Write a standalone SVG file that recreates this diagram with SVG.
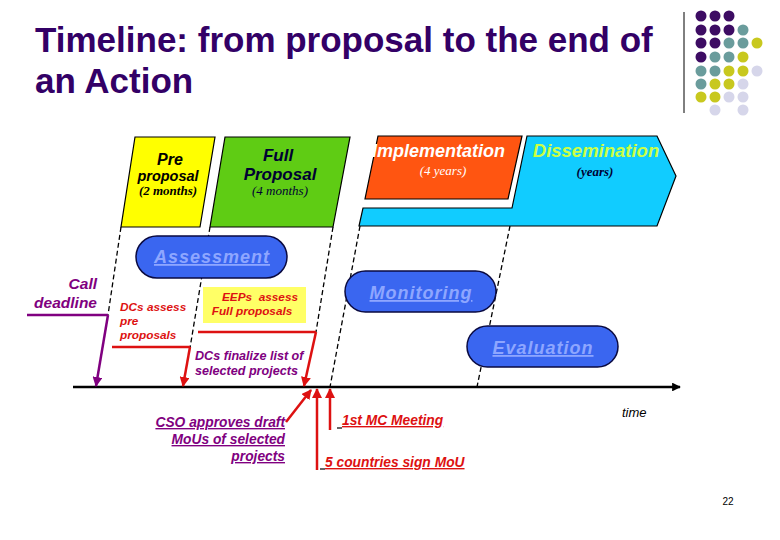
<svg xmlns="http://www.w3.org/2000/svg" width="780" height="540" viewBox="0 0 780 540">
<defs>
<style>
.t{font-family:"Liberation Sans",Arial,sans-serif;font-weight:bold;font-style:italic}
.s{font-family:"Liberation Serif","Times New Roman",serif;font-style:italic}
.sh{stroke:#000;stroke-width:1.2}
.pill{fill:#3a66f0;stroke:#0a0a40;stroke-width:1.5}
.pt{fill:#8ea6ff;font-size:18px;letter-spacing:1px;text-decoration:underline;text-anchor:middle}
.dash{stroke:#000;stroke-width:1.3;stroke-dasharray:5,3;fill:none}
.red{stroke:#dd1111;stroke-width:2.5;fill:none}
.pur{stroke:#800080;stroke-width:2.5;fill:none}
.rt{fill:#dd1111}
.pu{fill:#800080}
.u{text-decoration:underline}
</style>
<marker id="ar" viewBox="0 0 10 10" refX="9" refY="5" markerWidth="4" markerHeight="4" orient="auto"><path d="M0,0 L10,5 L0,10 Z" fill="#dd1111"/></marker>
<marker id="ap" viewBox="0 0 10 10" refX="9" refY="5" markerWidth="4" markerHeight="4" orient="auto"><path d="M0,0 L10,5 L0,10 Z" fill="#800080"/></marker>
<marker id="ak" viewBox="0 0 10 10" refX="9" refY="5" markerWidth="3.5" markerHeight="3.5" orient="auto"><path d="M0,0 L10,5 L0,10 Z" fill="#000"/></marker>
</defs>
<rect width="780" height="540" fill="#fff"/>

<g id="title">
<text x="35" y="52" font-family="Liberation Sans,Arial,sans-serif" font-weight="bold" font-size="35" fill="#330066">Timeline: from proposal to the end of</text>
<text x="35" y="93" font-family="Liberation Sans,Arial,sans-serif" font-weight="bold" font-size="35" fill="#330066">an Action</text>
</g>

<g id="logo">
<line x1="684" y1="12" x2="684" y2="113" stroke="#000" stroke-width="1"/>
<g fill="#3d0c63">
<circle cx="701" cy="16" r="5.5"/><circle cx="715" cy="16" r="5.5"/><circle cx="729" cy="16" r="5.5"/>
<circle cx="701" cy="30" r="5.5"/><circle cx="715" cy="30" r="5.5"/><circle cx="729" cy="30" r="5.5"/>
<circle cx="701" cy="43" r="5.5"/><circle cx="715" cy="43" r="5.5"/>
<circle cx="701" cy="57" r="5.5"/>
</g>
<g fill="#6a9c9c">
<circle cx="743" cy="30" r="5.5"/>
<circle cx="729" cy="43" r="5.5"/><circle cx="743" cy="43" r="5.5"/>
<circle cx="715" cy="57" r="5.5"/><circle cx="729" cy="57" r="5.5"/>
<circle cx="701" cy="71" r="5.5"/><circle cx="715" cy="71" r="5.5"/>
<circle cx="701" cy="84" r="5.5"/>
</g>
<g fill="#c8c81e">
<circle cx="757" cy="43" r="5.5"/>
<circle cx="743" cy="57" r="5.5"/>
<circle cx="729" cy="71" r="5.5"/><circle cx="743" cy="71" r="5.5"/>
<circle cx="715" cy="84" r="5.5"/><circle cx="729" cy="84" r="5.5"/>
<circle cx="701" cy="97" r="5.5"/><circle cx="715" cy="97" r="5.5"/>
</g>
<g fill="#d6d6ea">
<circle cx="757" cy="71" r="5.5"/>
<circle cx="743" cy="84" r="5.5"/>
<circle cx="729" cy="97" r="5.5"/><circle cx="743" cy="97" r="5.5"/>
<circle cx="715" cy="110" r="5.5"/><circle cx="743" cy="110" r="5.5"/>
</g>
</g>

<g id="connectors">
<line class="dash" x1="121" y1="227" x2="108" y2="315"/>
<line class="dash" x1="210" y1="227" x2="190" y2="348"/>
<line class="dash" x1="333" y1="227" x2="316" y2="332"/>
<line class="dash" x1="360" y1="226" x2="330" y2="387"/>
<line class="dash" x1="510" y1="226" x2="477" y2="387"/>
<line x1="73" y1="387" x2="680" y2="387" stroke="#000" stroke-width="2.5" marker-end="url(#ak)"/>
<line class="pur" x1="27" y1="315" x2="108" y2="315"/>
<line class="pur" x1="108" y1="315" x2="96" y2="386" marker-end="url(#ap)"/>
<line class="red" x1="112" y1="347" x2="190" y2="347"/>
<line class="red" x1="190" y1="347" x2="183" y2="386" marker-end="url(#ar)"/>
<line class="red" x1="198" y1="332" x2="316" y2="332"/>
<line class="red" x1="316" y1="332" x2="304" y2="386" marker-end="url(#ar)"/>
<line class="red" x1="286" y1="422" x2="311" y2="390" marker-end="url(#ar)"/>
<line class="red" x1="317" y1="470" x2="317" y2="389" marker-end="url(#ar)"/>
<line class="red" x1="330" y1="430" x2="330" y2="389" marker-end="url(#ar)"/>
</g>

<g id="pre">
<polygon class="sh" points="135,137 215,137 200,227 121,227" fill="#ffff00"/>
<text class="t" x="170" y="165" font-size="16" text-anchor="middle" fill="#000">Pre</text>
<text class="t" x="168" y="181" font-size="14.5" text-anchor="middle" fill="#000">proposal</text>
<text class="s" x="168" y="195" font-size="13" font-weight="bold" text-anchor="middle" fill="#000">(2 months)</text>
</g>

<g id="full">
<polygon class="sh" points="225,137 350,137 333,227 210,227" fill="#5fcc14"/>
<text class="t" x="278" y="161" font-size="17" text-anchor="middle" fill="#000033">Full</text>
<text class="t" x="280" y="180" font-size="17" text-anchor="middle" fill="#000033">Proposal</text>
<text class="s" x="280" y="195" font-size="13" text-anchor="middle" fill="#000033">(4 months)</text>
</g>

<g id="dissemination">
<polygon class="sh" points="527,136 657,136 676,176 657,226 359,226 363,208 512,208" fill="#11ccff"/>
<text class="t" x="596" y="157" font-size="18.5" text-anchor="middle" fill="#ccff44">Dissemination</text>
<text class="s" x="595" y="176" font-size="13" font-weight="bold" text-anchor="middle" fill="#000033">(years)</text>
</g>

<g id="implementation">
<polygon class="sh" points="378,136 522,136 508,199 365,199" fill="#ff5511"/>
<text class="t" x="372" y="157" font-size="18" fill="#fff">Implementation</text>
<text class="s" x="443" y="175" font-size="13" text-anchor="middle" fill="#fff">(4 years)</text>
</g>

<g id="assessment">
<rect class="pill" x="136" y="236" width="151" height="42" rx="21"/>
<text class="t pt" x="212" y="263">Assessment</text>
</g>

<g id="monitoring">
<rect class="pill" x="345" y="271" width="151" height="41" rx="20.5"/>
<text class="t pt" x="421" y="299">Monitoring</text>
</g>

<g id="evaluation">
<rect class="pill" x="467" y="326" width="151" height="41" rx="20.5"/>
<text class="t pt" x="543" y="354">Evaluation</text>
</g>

<g id="eeps">
<rect x="203" y="287" width="103" height="36" fill="#ffff66"/>
<text class="t rt" x="260" y="301" font-size="11.8" text-anchor="middle" xml:space="preserve">EEPs  assess</text>
<text class="t rt" x="252" y="315" font-size="11.8" text-anchor="middle">Full proposals</text>
</g>

<g id="call-deadline">
<text class="t pu" x="97" y="289" font-size="15.5" text-anchor="end">Call</text>
<text class="t pu" x="97" y="308" font-size="15.5" text-anchor="end">deadline</text>
</g>

<g id="dcs-assess">
<text class="t rt" x="120" y="311" font-size="11.8">DCs assess</text>
<text class="t rt" x="120" y="325" font-size="11.8">pre</text>
<text class="t rt" x="120" y="339" font-size="11.8">proposals</text>
</g>

<g id="dcs-finalize">
<text class="t pu" x="195" y="360" font-size="12.6">DCs finalize list of</text>
<text class="t pu" x="195" y="375" font-size="12.6">selected projects</text>
</g>

<g id="cso">
<text class="t pu u" x="285" y="427" font-size="13.8" text-anchor="end">CSO approves draft</text>
<text class="t pu u" x="285" y="444" font-size="13.8" text-anchor="end">MoUs of selected</text>
<text class="t pu u" x="285" y="461" font-size="13.8" text-anchor="end">projects</text>
</g>

<g id="mc-meeting">
<line x1="337" y1="428" x2="342" y2="428" stroke="#000" stroke-width="1.2"/>
<text class="t rt u" x="342" y="425" font-size="13.8">1st MC Meeting</text>
</g>

<g id="mou">
<line x1="320" y1="469" x2="325" y2="469" stroke="#000" stroke-width="1.2"/>
<text class="t rt u" x="325" y="467" font-size="13.8">5 countries sign MoU</text>
</g>

<g id="time">
<text x="622" y="417" font-family="Liberation Sans,Arial,sans-serif" font-style="italic" font-size="13" fill="#000">time</text>
</g>

<g id="page">
<text x="728" y="505" font-family="Liberation Sans,Arial,sans-serif" font-size="10" text-anchor="middle" fill="#000">22</text>
</g>
</svg>
